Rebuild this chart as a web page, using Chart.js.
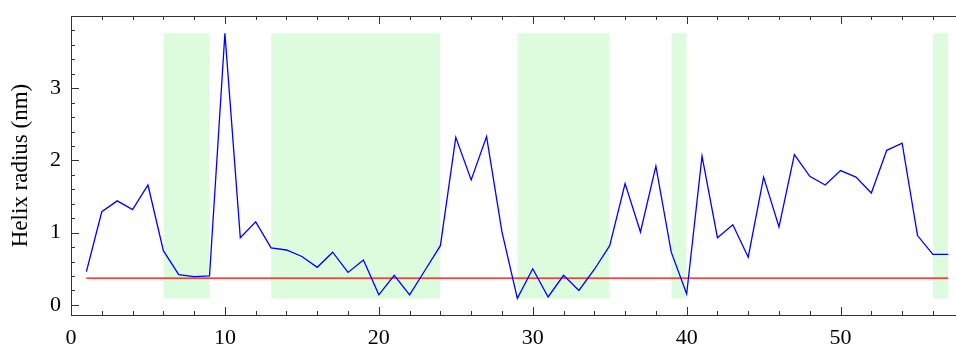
<!DOCTYPE html>
<html>
<head>
<meta charset="utf-8">
<script src="https://cdn.jsdelivr.net/npm/chart.js@4.4.1/dist/chart.umd.min.js"></script>
<style>
  html, body { margin: 0; padding: 0; background: #fff; }
  #wrap { width: 956px; height: 349px; }
</style>
</head>
<body>
<div id="wrap"><canvas id="chart"></canvas></div>
<script>
// residue index 1..57 and helix radius (nm)
const residues = [1,2,3,4,5,6,7,8,9,10,11,12,13,14,15,16,17,18,19,20,21,22,23,24,25,26,27,28,29,30,
  31,32,33,34,35,36,37,38,39,40,41,42,43,44,45,46,47,48,49,50,51,52,53,54,55,56,57];
const radius = [0.46,1.29,1.44,1.32,1.66,0.75,0.42,0.39,0.40,3.76,0.93,1.15,0.79,0.76,0.67,0.52,0.73,0.45,0.62,0.14,
  0.41,0.14,0.48,0.82,2.32,1.73,2.33,1.01,0.09,0.50,0.11,0.41,0.20,0.49,0.82,1.68,1.01,1.92,0.73,0.15,
  2.06,0.93,1.11,0.66,1.77,1.08,2.08,1.78,1.66,1.86,1.77,1.55,2.14,2.24,0.96,0.70,0.70];
const threshold = 0.37;

// shaded ranges (start, end residue)
const regionStart = [6, 13, 29, 39, 56];
const regionEnd   = [9, 24, 35, 40, 57];

const xTicks = [0, 10, 20, 30, 40, 50];
const yTicks = [0, 1, 2, 3];

const yLow = Math.min(...radius);
const yHigh = Math.max(...radius);

const shadeSets = regionStart.map((s, i) => ({
  data: [{ x: s, y: yHigh }, { x: regionEnd[i], y: yHigh }],
  borderWidth: 0,
  pointRadius: 0,
  backgroundColor: 'rgb(221,252,221)',
  fill: { value: yLow }
}));

const frameTicks = {
  id: 'frameTicks',
  afterDraw(chart) {
    const { ctx, chartArea: a, scales: { x, y } } = chart;
    ctx.save();
    ctx.strokeStyle = '#333';
    ctx.lineWidth = 1;
    ctx.beginPath();
    ctx.moveTo(a.left, a.top + 0.5);
    ctx.lineTo(a.right, a.top + 0.5);
    for (let v = 0; v <= 57; v += 2) {
      const px = Math.round(x.getPixelForValue(v)) + 0.5;
      const len = v % 10 === 0 ? 8 : 4;
      ctx.moveTo(px, a.bottom); ctx.lineTo(px, a.bottom - len);
      ctx.moveTo(px, a.top); ctx.lineTo(px, a.top + len);
    }
    for (let k = 0; k <= 20; k++) {
      const v = k * 0.2;
      const py = Math.round(y.getPixelForValue(v)) + 0.5;
      if (py < a.top) continue;
      const len = k % 5 === 0 ? 8 : 4;
      ctx.moveTo(a.left, py); ctx.lineTo(a.left + len, py);
    }
    ctx.stroke();
    ctx.restore();
  }
};

// pin the axis boxes so the plot area lands where the reference has it
const pinX = s => { s.height = 34; s.paddingLeft = 0; s.paddingRight = 0; };
const pinY = s => { s.width = 71; s.paddingTop = 0; s.paddingBottom = 0; };

new Chart(document.getElementById('chart'), {
  type: 'line',
  data: {
    datasets: [
      {
        data: residues.map((r, i) => ({ x: r, y: radius[i] })),
        borderColor: '#0000ff',
        borderWidth: 1.3,
        pointRadius: 0,
        tension: 0,
        fill: false
      },
      {
        data: [{ x: residues[0], y: threshold }, { x: residues[residues.length - 1], y: threshold }],
        borderColor: '#ff0000',
        borderWidth: 1.3,
        pointRadius: 0,
        fill: false
      },
      ...shadeSets
    ]
  },
  options: {
    responsive: true,
    maintainAspectRatio: false,
    animation: false,
    layout: { padding: { top: 16, right: 0, bottom: 0, left: 0 } },
    plugins: { legend: { display: false }, tooltip: { enabled: false } },
    scales: {
      x: {
        type: 'linear',
        min: 0,
        max: 57.5,
        afterBuildTicks: s => { s.ticks = xTicks.map(v => ({ value: v })); },
        afterFit: pinX,
        grid: { display: false, drawTicks: false },
        border: { display: true, color: '#333', width: 1 },
        ticks: { font: { family: 'Liberation Serif', size: 22 }, color: '#000', padding: 10, maxRotation: 0 }
      },
      y: {
        min: -0.14,
        max: 4.0,
        afterBuildTicks: s => { s.ticks = yTicks.map(v => ({ value: v })); },
        afterFit: pinY,
        grid: { display: false, drawTicks: false },
        border: { display: true, color: '#333', width: 1 },
        title: {
          display: true,
          text: 'Helix radius (nm)',
          font: { family: 'Liberation Serif', size: 23 },
          color: '#000',
          padding: { top: 7, bottom: 0 }
        },
        ticks: { font: { family: 'Liberation Serif', size: 22 }, color: '#000', padding: 10 }
      }
    }
  },
  plugins: [frameTicks]
});
</script>
</body>
</html>
